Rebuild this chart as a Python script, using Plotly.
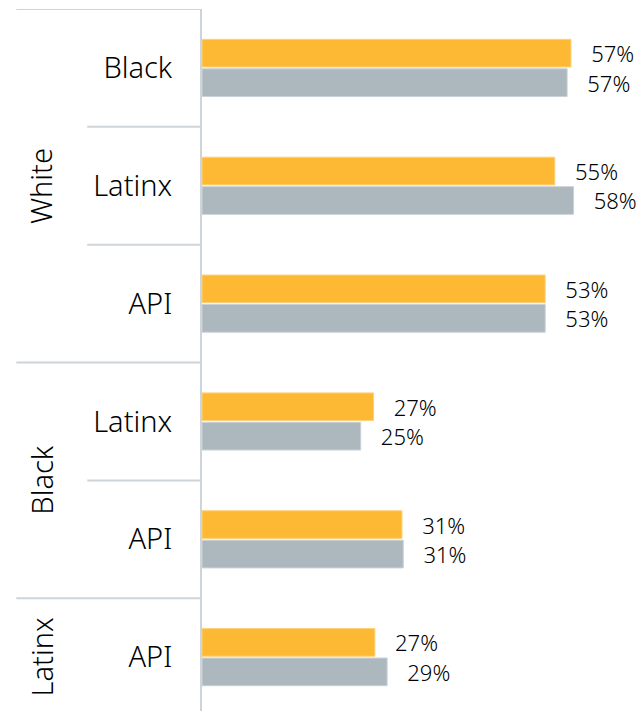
import plotly.graph_objects as go

# Pairings: outer group and the group it is paired with
outer_group = ["White", "White", "White", "Black", "Black", "Latinx"]
paired_with = ["Black", "Latinx", "API", "Latinx", "API", "API"]

# Shares (%) for the two measures
share_a = [57.2, 54.7, 53.2, 26.6, 31.0, 26.8]
share_b = [56.6, 57.6, 53.2, 24.6, 31.2, 28.7]

ORANGE = "#FDB933"
GRAY = "#ADB8BE"
RULE = "#CDD4DA"
TEXT = "#000000"
FONT = "Noto Sans"
WEIGHT = 300

rows = list(range(len(paired_with)))
label_tpl = "\u00a0\u00a0\u00a0%{x:.0f}%"

fig = go.Figure()
for vals, color, edge in [(share_a, ORANGE, "#FED27C"), (share_b, GRAY, "#C9D1D6")]:
    fig.add_trace(go.Bar(
        x=vals, y=rows, orientation="h",
        marker=dict(color=color, line=dict(color=edge, width=1)),
        texttemplate=label_tpl, textposition="outside",
        textfont=dict(family=FONT, size=22, color=TEXT, weight=WEIGHT),
        constraintext="none", cliponaxis=False,
        hoverinfo="skip", showlegend=False,
    ))

# Group boundaries and centres, derived from the outer grouping
shapes, annotations = [], []
n = len(outer_group)
starts = [i for i in range(n) if i == 0 or outer_group[i] != outer_group[i - 1]]
for i in range(n):
    is_outer = i in starts
    shapes.append(dict(
        type="line", xref="paper", yref="y",
        x0=-0.424 if is_outer else -0.262, x1=-0.004,
        y0=i - 0.5, y1=i - 0.5,
        line=dict(color=RULE, width=2),
    ))
for k, s in enumerate(starts):
    e = starts[k + 1] if k + 1 < len(starts) else n
    annotations.append(dict(
        text=outer_group[s], xref="paper", yref="y",
        x=-0.367, y=(s + e - 1) / 2,
        textangle=-90, showarrow=False,
        xanchor="center", yanchor="middle",
        font=dict(family=FONT, size=29, color=TEXT, weight=WEIGHT),
    ))

fig.update_layout(
    width=640, height=711,
    margin=dict(l=202, r=0, t=9, b=0),
    paper_bgcolor="white", plot_bgcolor="white",
    barmode="group", bargap=0.5, bargroupgap=0.06,
    shapes=shapes, annotations=annotations,
    xaxis=dict(range=[0, 67.9], visible=False, fixedrange=True),
    yaxis=dict(
        range=[5.457, -0.5],
        tickmode="array", tickvals=rows, ticktext=paired_with,
        tickfont=dict(family=FONT, size=29, color=TEXT, weight=WEIGHT),
        ticks="", ticklabelstandoff=22,
        showgrid=False, zeroline=False,
        showline=True, linecolor=RULE, linewidth=2,
        fixedrange=True,
    ),
)

fig.write_html("out.html")
